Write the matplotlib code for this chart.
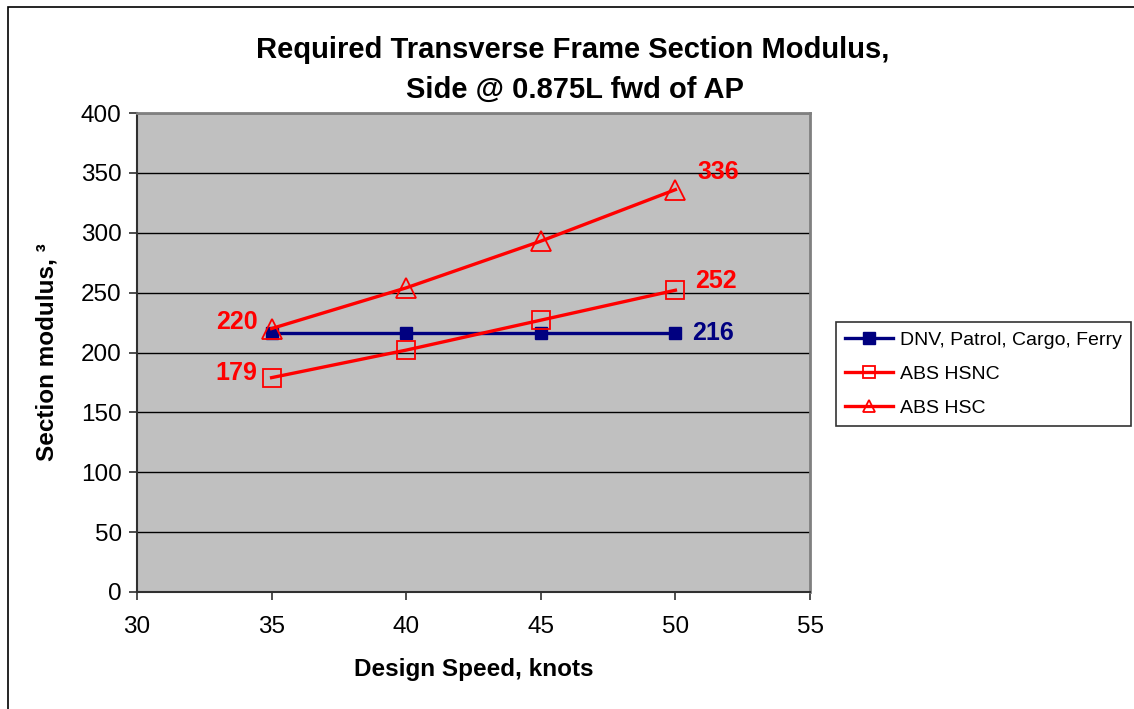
import numpy as np
import matplotlib
matplotlib.use("Agg")
import matplotlib.pyplot as plt
from matplotlib.patches import Rectangle

plt.rcParams['font.family'] = ['Liberation Sans', 'DejaVu Sans']

speed = [35, 40, 45, 50]
dnv = [216, 216, 216, 216]
hsnc = [179, 202, 227, 252]
hsc = [220, 254, 293, 336]
names = ['DNV, Patrol, Cargo, Ferry', 'ABS HSNC', 'ABS HSC']
xticks = [30, 35, 40, 45, 50, 55]
yticks = [0, 50, 100, 150, 200, 250, 300, 350, 400]

navy = '#000080'
red = '#FF0000'

fig = plt.figure(figsize=(11.34, 7.09), dpi=100)
fig.patches.append(Rectangle((8/1134, -0.05), 1.2, 1 - 7/709 + 0.05, transform=fig.transFigure,
                             fill=False, edgecolor='black', linewidth=1.2))

ax = fig.add_axes([137/1134, 1 - 592/709, (810-137)/1134, (592-113)/709])
ax.set_facecolor('#C0C0C0')

ax.plot(speed, dnv, color=navy, lw=2.4, marker='s', ms=9, mfc=navy, mec=navy, label=names[0], zorder=3)
ax.plot(speed, hsnc, color=red, lw=2.4, marker='s', ms=13, mfc='none', mec=red, mew=1.3, label=names[1], zorder=4)
ax.plot(speed, hsc, color=red, lw=2.4, marker='^', ms=14, mfc='none', mec=red, mew=1.3, label=names[2], zorder=5)

# data labels on first / last points
lab = dict(fontsize=18, fontweight='bold', textcoords='offset points', va='center')
ax.annotate(str(hsc[0]), (speed[0], hsc[0]), xytext=(-10, 5), ha='right', color=red, **lab)
ax.annotate(str(hsnc[0]), (speed[0], hsnc[0]), xytext=(-10, 3), ha='right', color=red, **lab)
ax.annotate(str(hsc[-1]), (speed[-1], hsc[-1]), xytext=(16, 13), ha='left', color=red, **lab)
ax.annotate(str(hsnc[-1]), (speed[-1], hsnc[-1]), xytext=(14, 7), ha='left', color=red, **lab)
ax.annotate(str(dnv[-1]), (speed[-1], dnv[-1]), xytext=(12, 0), ha='left', color=navy, **lab)

ax.set_xlim(30, 55)
ax.set_ylim(0, 400)
ax.set_xticks(xticks)
ax.set_yticks(yticks)
ax.tick_params(labelsize=17.5, direction='out', length=6, width=1.2, colors='#303030', labelcolor='black')
ax.tick_params(axis='x', pad=11)
ax.tick_params(axis='y', pad=5)
ax.yaxis.grid(True, color='black', lw=1)
ax.set_axisbelow(True)
for s in ['top', 'right']:
    ax.spines[s].set_color('#808080')
    ax.spines[s].set_linewidth(2)
for s in ['left', 'bottom']:
    ax.spines[s].set_color('#303030')
    ax.spines[s].set_linewidth(1.5)

ax.set_xlabel('Design Speed, knots', fontsize=17.5, fontweight='bold', labelpad=15)
ax.set_ylabel('Section modulus, ³', fontsize=17.5, fontweight='bold', labelpad=16)

fig.text(573/1134, 1 - 50/709, 'Required Transverse Frame Section Modulus,', ha='center', va='center',
         fontsize=21, fontweight='bold')
fig.text(575/1134, 1 - 90/709, 'Side @ 0.875L fwd of AP', ha='center', va='center',
         fontsize=21, fontweight='bold')

leg = fig.legend(loc='center left', bbox_to_anchor=(836/1134, 1 - 374/709), fontsize=14,
                 frameon=True, fancybox=False, edgecolor='black', handlelength=2.5,
                 borderpad=0.45, borderaxespad=0, labelspacing=0.85, handletextpad=0.35)
leg.get_frame().set_linewidth(1.2)
for h in leg.legend_handles:
    h.set_markersize(8)

fig.savefig('out.png', dpi=100)
